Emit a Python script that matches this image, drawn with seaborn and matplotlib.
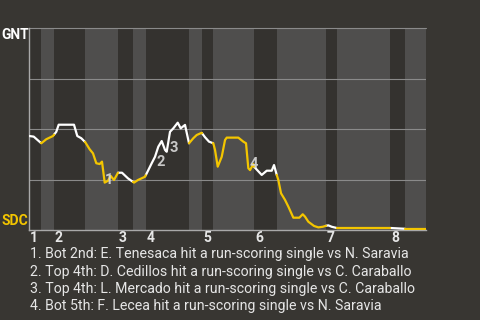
import numpy as np
import pandas as pd
import matplotlib
matplotlib.use("Agg")
import matplotlib.pyplot as plt
import seaborn as sns

# ---------------- data ----------------
teams = ["GNT", "SDC"]
# start of each half inning (top 1, bot 1, top 2, ...), in game-progress units
half_starts = [0, 11.7, 24.7, 55.7, 88.7, 103.7, 116.4, 159.7, 172.7, 183.7,
               224.7, 247.4, 296.7, 307.7, 360.7, 375.7]
game_end = 396.4
inning_labels = ["1", "2", "3", "4", "5", "6", "7", "8"]

progress = [0, 4.4, 12, 17, 23.7, 27, 29.4, 44.7, 48, 52, 56, 60.4, 63.7, 67, 70.4,
            72.7, 75.4, 78.7, 81.4, 84.7, 88.7, 92.7, 98.7, 104.7, 108.7, 115.7,
            119, 122.4, 125.7, 129, 132.4, 135.7, 137.4, 140.7, 144, 148.4, 151.4,
            155.7, 159.7, 164, 167.4, 172.4, 175.7, 179.7, 184, 185.7, 188.4,
            192.4, 195.7, 197.4, 209, 214, 216.7, 219, 220.7, 224, 224.7, 232.4,
            237.4, 242.4, 244.7, 247.4, 249, 251.7, 255.7, 259, 264, 270, 273.4,
            275.7, 279, 284.7, 289, 293.4, 296.7, 299, 302.4, 307.4, 360.7,
            375.7, 397.4]
gnt_win_pct = [46.6, 46.3, 43.0, 45.0, 46.6, 48.7, 52.2, 52.2, 46.6, 45.5, 43.5,
               40.0, 38.0, 33.1, 32.7, 33.9, 23.5, 24.4, 26.8, 24.8, 28.4, 28.4,
               25.6, 23.5, 24.8, 26.4, 29.7, 33.1, 36.3, 41.3, 44.1, 39.7, 38.8,
               48.7, 50.4, 53.2, 50.4, 52.1, 43.0, 45.5, 47.1, 48.2, 46.0, 43.8,
               43.0, 39.7, 31.4, 36.3, 44.6, 45.8, 45.8, 43.8, 43.0, 30.6, 29.7,
               32.7, 31.4, 27.3, 29.4, 29.4, 32.2, 27.3, 24.8, 18.2, 14.9, 11.6,
               6.1, 6.1, 7.8, 6.6, 4.1, 2.0, 1.3, 1.6, 2.1, 2.3, 1.6, 1.0, 1.0,
               0.6, 0.6]

event_tags = ["1", "2", "3", "4"]
event_texts = [
    "1. Bot 2nd: E. Tenesaca hit a run-scoring single vs N. Saravia",
    "2. Top 4th: D. Cedillos hit a run-scoring single vs C. Caraballo",
    "3. Top 4th: L. Mercado hit a run-scoring single vs C. Caraballo",
    "4. Bot 5th: F. Lecea hit a run-scoring single vs N. Saravia",
]
event_x = [79.7, 131.7, 144, 224]
event_y = [24.8, 33.9, 40.5, 32.7]

# ---------------- styling ----------------
BG = "#383632"
DARK = "#34322f"
LIGHT = "#4f4e4d"
YELLOW = "#f3c500"
WHITE = "#ffffff"
TEXT = "#e6e6e6"

sns.set_theme(style="dark")
plt.rcParams["font.family"] = ["Roboto", "DejaVu Sans"]

fig = plt.figure(figsize=(4.8, 3.2), dpi=100, facecolor=BG)
ax = fig.add_axes([0.061, 0.28125, 0.826, 0.6303])
ax.set_facecolor(BG)

bounds = half_starts + [game_end]
for i in range(len(half_starts)):
    ax.axvspan(bounds[i], bounds[i + 1], color=DARK if i % 2 == 0 else LIGHT,
               lw=0, zorder=0)

for g in [25, 50, 75]:
    ax.axhline(g, color="#8a8a8a", lw=0.8, zorder=1)
ax.axhline(100, color="#8a8a8a", lw=0.8, zorder=1, clip_on=False)

# build line segments coloured by half inning
px = np.array(progress, dtype=float)
py = np.array(gnt_win_pct, dtype=float)
rows = []
for i in range(len(half_starts)):
    s, e = bounds[i], bounds[i + 1]
    if i == len(half_starts) - 1:
        e = px[-1]
    mask = (px > s) & (px < e)
    xs = [s] + list(px[mask]) + [e]
    ys = [np.interp(s, px, py)] + list(py[mask]) + [np.interp(e, px, py)]
    half = "top" if i % 2 == 0 else "bottom"
    for xv, yv in zip(xs, ys):
        rows.append({"x": xv, "wp": yv, "seg": i, "half": half})
df = pd.DataFrame(rows)

sns.lineplot(data=df, x="x", y="wp", hue="half", units="seg", estimator=None,
             sort=False, palette={"top": WHITE, "bottom": YELLOW},
             legend=False, linewidth=1.6, ax=ax, zorder=3)

ax.set_xlim(0, game_end)
ax.set_ylim(0, 100)
ax.set_xticks([])
ax.set_yticks([])
ax.set_xlabel("")
ax.set_ylabel("")
for side in ["top", "right"]:
    ax.spines[side].set_visible(False)
for side in ["left", "bottom"]:
    ax.spines[side].set_visible(True)
    ax.spines[side].set_color("#a9a9a9")
    ax.spines[side].set_linewidth(1.0)

# event tags on chart
for tag, ex, ey in zip(event_tags, event_x, event_y):
    ax.text(ex, ey, tag, color="#d9d9d9", fontsize=10.5, fontweight="bold",
            ha="center", va="center", alpha=0.9, zorder=4)

# team labels
fig.text(14.7 / 480, 1 - 35 / 320, teams[0], color=WHITE, fontsize=10,
         fontweight="bold", ha="center", va="center")
fig.text(14.7 / 480, 1 - 221 / 320, teams[1], color=YELLOW, fontsize=10,
         fontweight="bold", ha="center", va="center")

# inning labels
inning_starts = half_starts[0::2]
for lab, xs in zip(inning_labels, inning_starts):
    ax.annotate(lab, xy=(xs, 0), xycoords="data", xytext=(1.0, -8),
                textcoords="offset pixels", color=TEXT, fontsize=10,
                fontweight="bold", ha="left", va="center", annotation_clip=False)

# event descriptions
for k, t in enumerate(event_texts):
    fig.text(30.5 / 480, 1 - (254.3 + 17.35 * k) / 320, t, color=TEXT,
             fontsize=10.2, ha="left", va="center")

fig.savefig("out.png", dpi=100, facecolor=BG)
